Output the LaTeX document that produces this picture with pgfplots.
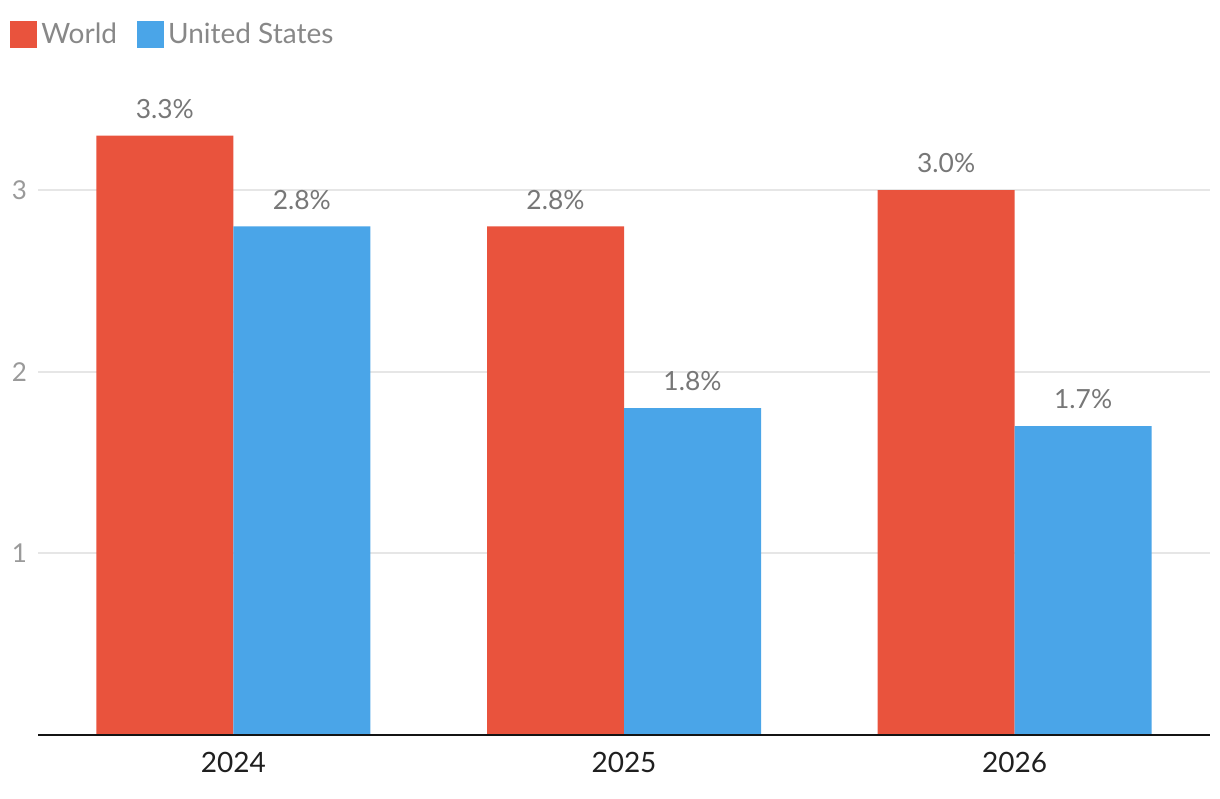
\documentclass[border=0pt]{standalone}
\usepackage{fontspec}
\setmainfont{Lato}
\usepackage{pgfplots}
\pgfplotsset{compat=1.18}
\definecolor{worldred}{HTML}{E9533D}
\definecolor{usblue}{HTML}{4AA5E8}
\definecolor{gridgray}{HTML}{E6E6E6}
\definecolor{ticktxt}{HTML}{9A9A9A}
\definecolor{labeltxt}{HTML}{777777}
\definecolor{legendtxt}{HTML}{888888}
\begin{document}
\begin{tikzpicture}
\begin{axis}[
    name=ax,
    scale only axis,
    width=586pt, height=327pt,
    ybar=0pt,
    bar width=68.5pt,
    xmin=-0.5, xmax=2.5,
    ymin=0, ymax=3.6,
    xtick={0,1,2},
    xticklabels={2024,2025,2026},
    ytick={1,2,3},
    ymajorgrids,
    grid style={gridgray, line width=1pt},
    major tick length=0pt,
    axis line style={draw=none},
    ytick style={draw=none},
    xtick style={draw=none},
    /pgf/number format/assume math mode=true,
    xticklabel style={font=\fontsize{14pt}{16pt}\selectfont, text=black!88, yshift=-5pt},
    yticklabel style={font=\fontsize{13pt}{15pt}\selectfont, text=ticktxt, xshift=-2pt},
    point meta=y,
    nodes near coords={\pgfmathprintnumber[fixed,fixed zerofill,precision=1]{\pgfplotspointmeta}\%},
    every node near coord/.append style={font=\fontsize{13.2pt}{15pt}\selectfont, text=labeltxt, yshift=5pt},
    clip=false,
    legend columns=-1,
    legend style={draw=none, fill=none, at={(rel axis cs:-0.024,1.096)}, anchor=north west,
        font=\fontsize{14pt}{16pt}\selectfont, text=legendtxt, inner sep=0pt,
        /tikz/every even column/.append style={column sep=8pt}},
    legend image code/.code={\fill[#1] (0pt,-6.75pt) rectangle (13.5pt,6.75pt);},
]
\addplot[fill=worldred, draw=none] coordinates {(0,3.3) (1,2.8) (2,3.0)};
\addplot[fill=usblue, draw=none] coordinates {(0,2.8) (1,1.8) (2,1.7)};
\legend{World, United States}
\draw[black!92, line width=1.1pt] (rel axis cs:0,0) -- (rel axis cs:1,0);
\end{axis}
\pgfresetboundingbox
\path ([shift={(-19pt,-31.5pt)}]ax.south west) rectangle ([shift={(5pt,40.5pt)}]ax.north east);
\end{tikzpicture}
\end{document}
